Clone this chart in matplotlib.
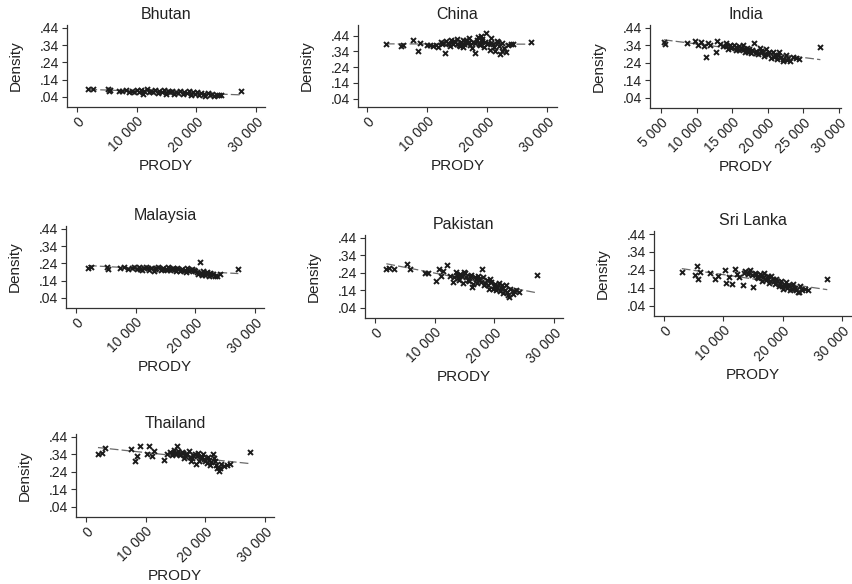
import matplotlib
matplotlib.use("Agg")
import matplotlib.pyplot as plt
import numpy as np

plt.rcParams['font.family'] = ['Liberation Sans', 'DejaVu Sans']

# DATA (PRODY, density) per country
bhutan_prody = [1900, 2600, 5200, 5300, 5500, 7000, 7600, 8200, 8700, 9200,
                9600, 10100, 10400, 10700, 11000, 11300, 11700, 12000, 12400, 12800,
                13100, 13500, 13800, 14200, 14500, 14900, 15200, 15600, 15900, 16300,
                16600, 17000, 17300, 17700, 18000, 18400, 18700, 19100, 19400, 19800,
                20100, 20500, 20800, 21200, 21500, 21900, 22200, 22600, 23000, 23400,
                23800, 24200, 27400]
bhutan_density = [.088, .086, .084, .076, .080, .074, .072, .078, .066, .074,
                  .070, .082, .066, .078, .058, .074, .084, .068, .076, .070,
                  .080, .064, .074, .068, .078, .060, .072, .066, .076, .058,
                  .070, .064, .074, .056, .068, .062, .072, .054, .066, .060,
                  .070, .052, .064, .058, .046, .062, .054, .058, .048, .054,
                  .050, .052, .076]

china_prody = [3100, 5700, 5900, 7600, 8400, 8800, 9900, 10500, 11000, 11500,
               11800, 12300, 12700, 13000, 13200, 13600, 14000, 14300, 14700, 15000,
               15300, 15700, 16000, 16400, 16700, 17000, 17400, 17700, 18000, 18300,
               18600, 18900, 19200, 19500, 19800, 20100, 20400, 20700, 21000, 21300,
               21600, 21900, 22200, 22500, 22800, 23100, 23500, 23900, 24300, 27300,
               12500, 13400, 13800, 14500, 14900, 15500, 15900, 16200, 16900, 17200,
               17900, 18400, 18800, 19100, 19600, 20000, 20600, 21200, 21800, 22400]
china_density = [.385, .372, .380, .410, .343, .392, .380, .378, .372, .383,
                 .365, .400, .395, .328, .405, .390, .412, .385, .398, .420,
                 .380, .402, .370, .410, .392, .425, .360, .400, .330, .415,
                 .385, .440, .405, .370, .455, .395, .350, .425, .385, .340,
                 .405, .375, .322, .395, .360, .335, .378, .388, .385, .398,
                 .385, .395, .375, .405, .390, .372, .412, .388, .400, .380,
                 .395, .430, .378, .418, .400, .385, .392, .365, .398, .345]

india_prody = [5400, 5600, 8600, 9800, 10200, 10600, 11000, 11300, 11600, 11900,
               12700, 12800, 13300, 13700, 14100, 14400, 14700, 15000, 15300, 15600,
               15900, 16200, 16500, 16800, 17100, 17400, 17700, 18000, 18300, 18600,
               18900, 19200, 19500, 19800, 20100, 20400, 20700, 21000, 21300, 21600,
               21900, 22200, 22500, 22800, 23200, 23600, 24000, 24400, 27400,
               14200, 14900, 15500, 16000, 16600, 17200, 17800, 18400, 19000, 19600,
               20200, 20900, 21500, 22100, 22700]
india_density = [.360, .348, .352, .365, .345, .360, .338, .274, .355, .340,
                 .305, .367, .350, .335, .352, .320, .345, .330, .342, .315,
                 .335, .322, .340, .305, .328, .318, .298, .352, .310, .290,
                 .325, .300, .282, .318, .292, .270, .305, .285, .262, .300,
                 .275, .252, .288, .268, .250, .275, .270, .262, .333,
                 .335, .325, .330, .312, .318, .302, .315, .295, .308, .290,
                 .300, .276, .288, .265, .258]

malaysia_prody = [2000, 2500, 5200, 5400, 7400, 8000, 8700, 9300, 9700, 10200,
                  10600, 11000, 11400, 11800, 12200, 12600, 13000, 13400, 13800, 14200,
                  14600, 15000, 15400, 15800, 16200, 16600, 17000, 17400, 17800, 18200,
                  18600, 19000, 19400, 19800, 20200, 20700, 21000, 21300, 21600, 21900,
                  22200, 22500, 22900, 23300, 23700, 24100, 27200,
                  10800, 12000, 13200, 14400, 15200, 16000, 16800, 17600, 18400, 19200,
                  20000, 20500, 21100, 21800, 22700]
malaysia_density = [.212, .218, .222, .210, .212, .220, .208, .215, .222, .210,
                    .218, .200, .214, .222, .205, .216, .198, .212, .220, .204,
                    .214, .208, .218, .200, .212, .206, .216, .198, .210, .204,
                    .214, .196, .208, .200, .188, .250, .182, .198, .175, .190,
                    .170, .185, .178, .168, .165, .180, .208,
                    .210, .212, .206, .210, .200, .208, .198, .204, .192, .200,
                    .196, .178, .172, .184, .172]

pakistan_prody = [1900, 2400, 3100, 5400, 5800, 8400, 8900, 10300, 10700, 11000,
                  11400, 12000, 12600, 13000, 13500, 13900, 14300, 14700, 15100, 15500,
                  15900, 16300, 16700, 17100, 17500, 18000, 18300, 18700, 19100, 19500,
                  19900, 20300, 20700, 21100, 21500, 21900, 22300, 22700, 23100, 23600,
                  24100, 27200,
                  13200, 13700, 14100, 14500, 14900, 15300, 15700, 16100, 16500, 16900,
                  17300, 17700, 18100, 18500, 18900, 19300, 19700, 20100, 20500, 20900,
                  21300, 21700, 22100, 22500, 23300]
pakistan_density = [.262, .270, .265, .289, .264, .242, .238, .195, .265, .220,
                    .250, .283, .225, .190, .245, .210, .235, .180, .240, .200,
                    .225, .160, .215, .185, .205, .260, .170, .200, .150, .190,
                    .165, .140, .180, .155, .125, .170, .115, .150, .120, .140,
                    .130, .227,
                    .215, .230, .200, .220, .245, .215, .195, .230, .175, .205,
                    .225, .190, .215, .180, .170, .205, .150, .175, .160, .135,
                    .170, .145, .130, .105, .135]

srilanka_prody = [3000, 5300, 5500, 5800, 6100, 7800, 8600, 9100, 10300, 10400,
                  11000, 11400, 11900, 12300, 12700, 13300, 13700, 14100, 14500, 15000,
                  15300, 15700, 16100, 16500, 16900, 17300, 17700, 18100, 18500, 18900,
                  19300, 19700, 20100, 20500, 20900, 21300, 21700, 22100, 22500, 22900,
                  23300, 23800, 24300, 27500,
                  13500, 14300, 14800, 15500, 15900, 16300, 16700, 17100, 17500, 17900,
                  18300, 18700, 19100, 19500, 19900, 20300, 20700, 21100, 21500, 21900,
                  22300, 22700]
srilanka_density = [.227, .210, .260, .186, .230, .223, .190, .205, .238, .168,
                    .200, .160, .242, .215, .198, .153, .232, .215, .238, .145,
                    .225, .200, .215, .180, .222, .195, .165, .205, .175, .190,
                    .150, .180, .135, .170, .155, .125, .160, .140, .118, .150,
                    .125, .135, .128, .190,
                    .225, .228, .210, .218, .195, .208, .200, .185, .205, .180,
                    .190, .160, .175, .165, .150, .155, .140, .148, .132, .138,
                    .128, .115]

thailand_prody = [2000, 2600, 3200, 7600, 8200, 8500, 9000, 10600, 10300, 11000,
                  11400, 13000, 13500, 14000, 14400, 14800, 15200, 15600, 16000, 16400,
                  16800, 17200, 17600, 18000, 18400, 18800, 19200, 19600, 20000, 20400,
                  20800, 21200, 21600, 22000, 22300, 22700, 23200, 23700, 24200, 27400,
                  14600, 15000, 15400, 15800, 16200, 16600, 17000, 17400, 17800, 18200,
                  18600, 19000, 19400, 19800, 20200, 20600, 21000, 21400, 21800, 22500]
thailand_density = [.340, .350, .377, .372, .302, .330, .387, .387, .345, .330,
                    .360, .311, .345, .355, .335, .365, .390, .340, .355, .320,
                    .345, .360, .300, .335, .285, .350, .320, .340, .300, .325,
                    .280, .340, .300, .265, .245, .285, .275, .282, .288, .353,
                    .350, .345, .360, .335, .348, .330, .340, .325, .318, .345,
                    .330, .305, .325, .312, .290, .310, .295, .320, .280, .260]

density_ticks = [.04, .14, .24, .34, .44]
density_labels = ['.04', '.14', '.24', '.34', '.44']
prody_ticks = [0, 10000, 20000, 30000]
prody_labels = ['0', '10 000', '20 000', '30 000']
india_ticks = [5000, 10000, 15000, 20000, 25000, 30000]
india_labels = ['5 000', '10 000', '15 000', '20 000', '25 000', '30 000']

# LAYOUT: name, x, y, pixel box (left, top, right, bottom), xlim, ylim, ticks
W, H = 852, 584
panels = [
    ('Bhutan', bhutan_prody, bhutan_density, (67, 25, 265, 107), (-1680, 31500), (-0.018, 0.457), prody_ticks, prody_labels),
    ('China', china_prody, china_density, (358, 25, 557, 107), (-1550, 31650), (-0.014, 0.508), prody_ticks, prody_labels),
    ('India', india_prody, india_density, (650, 25, 841, 108), (3450, 30300), (-0.018, 0.457), india_ticks, india_labels),
    ('Malaysia', malaysia_prody, malaysia_density, (66, 226, 264, 308), (-1680, 31500), (-0.018, 0.457), prody_ticks, prody_labels),
    ('Pakistan', pakistan_prody, pakistan_density, (365, 235, 563, 318), (-1680, 31500), (-0.018, 0.457), prody_ticks, prody_labels),
    ('Sri Lanka', srilanka_prody, srilanka_density, (654, 231, 851, 316), (-1680, 31500), (-0.018, 0.457), prody_ticks, prody_labels),
    ('Thailand', thailand_prody, thailand_density, (76, 434, 274, 517), (-1680, 31500), (-0.018, 0.457), prody_ticks, prody_labels),
]

TXT = '#222222'
fig = plt.figure(figsize=(W / 100, H / 100), dpi=100)

for name, x, y, box, xlim, ylim, xt, xtl in panels:
    l, t, r, b = box
    ax = fig.add_axes([l / W, 1 - b / H, (r - l) / W, (b - t) / H])
    x = np.array(x, dtype=float)
    y = np.array(y, dtype=float)

    # fitted values (linear fit)
    k, c = np.polyfit(x, y, 1)
    xs = np.array([x.min(), x.max()])
    ax.plot(xs, k * xs + c, color='#6a6a6a', lw=0.9, dashes=(7, 2.5), zorder=1)
    ax.plot(x, y, 'x', ms=3.6, mew=1.4, color='#1c1c1c', zorder=2)

    ax.set_xlim(*xlim)
    ax.set_ylim(*ylim)
    ax.set_yticks(density_ticks)
    ax.set_yticklabels(density_labels)
    ax.set_xticks(xt)
    ax.set_xticklabels(xtl, rotation=45, ha='right', va='top', rotation_mode='anchor')
    ax.tick_params(labelsize=10, length=3.5, width=0.8, color='#333333', labelcolor=TXT, pad=2)
    for s in ['top', 'right']:
        ax.spines[s].set_visible(False)
    for s in ['left', 'bottom']:
        ax.spines[s].set_linewidth(0.9)
        ax.spines[s].set_color('#333333')
    ax.set_title(name, fontsize=11.5, color=TXT, pad=4)

    fig.text((l - 51) / W, 1 - (t + b) / 2 / H, 'Density', rotation=90,
             ha='center', va='center', fontsize=11, color=TXT)
    fig.text((l + r) / 2 / W, 1 - (b + 59) / H, 'PRODY',
             ha='center', va='center', fontsize=11, color=TXT)

fig.savefig('out.png', dpi=100)
